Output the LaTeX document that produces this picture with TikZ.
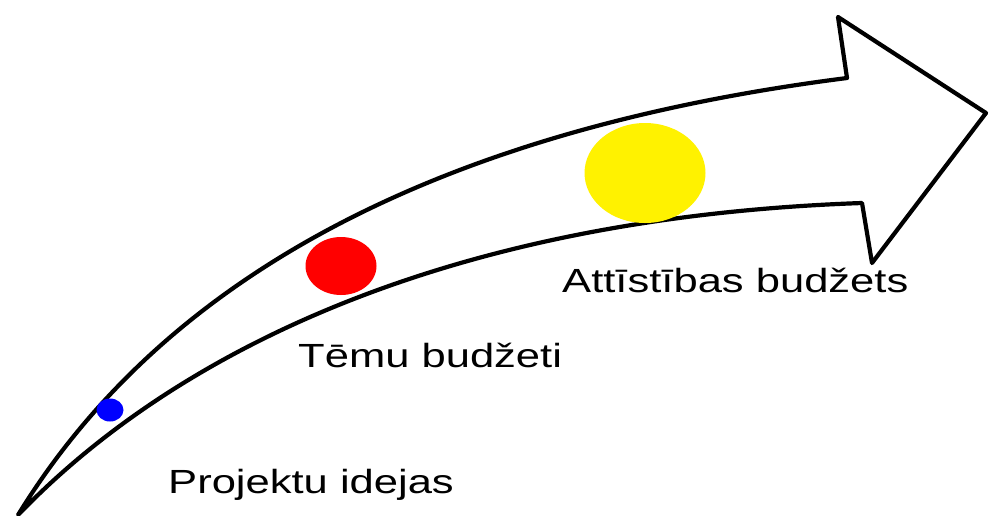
\documentclass[tikz,border=0pt]{standalone}
\usepackage{fontspec}
\setmainfont{Liberation Sans}
\usetikzlibrary{shapes.geometric}
\begin{document}
\begin{tikzpicture}[x=1pt,y=-1pt,
  outline/.style={draw=black,line width=4.2pt,line join=round,fill=white},
  dot/.style={ellipse,inner sep=0pt,draw=none},
  label/.style={inner sep=0pt,anchor=base west,font=\fontsize{33.5}{36}\selectfont}]
\useasboundingbox[fill=white] (0,0) rectangle (990,515);
\coordinate (s) at (18,515);
\coordinate (ue) at (847,78);
\coordinate (ht) at (838,17);
\coordinate (tip) at (986,113);
\coordinate (hb) at (872,263);
\coordinate (le) at (862,203);
\draw[outline] (s) .. controls (150,300) and (400,135) .. (ue)
  -- (ht) -- (tip) -- (hb) -- (le)
  .. controls (430,218) and (165,362) .. (s) -- cycle;
\node[dot,fill=blue,minimum width=27pt,minimum height=23pt] (blue) at (110,410) {};
\node[dot,fill=red,minimum width=71pt,minimum height=58pt] (red) at (341,266) {};
\node[dot,fill=yellow,minimum width=121pt,minimum height=100pt] (yellow) at (645,173) {};
\node[label] (t1) at (168,493) {\scalebox{1.3}[1]{Projektu idejas}};
\node[label] (t2) at (298,367) {\scalebox{1.3}[1]{Tēmu budžeti}};
\node[label] (t3) at (562,292) {\scalebox{1.3}[1]{Attīstības budžets}};
\end{tikzpicture}
\end{document}
